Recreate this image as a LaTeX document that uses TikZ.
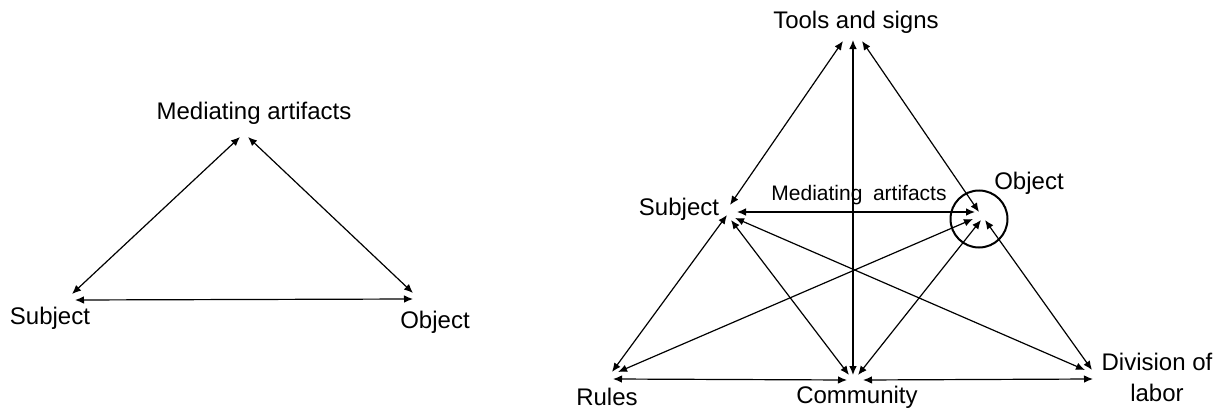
\documentclass[tikz,border=0pt]{standalone}
\usepackage{fontspec}
\setmainfont{Liberation Sans}
\usetikzlibrary{arrows.meta}
\begin{document}
\begin{tikzpicture}[x=0.5pt,y=-0.5pt,
  label/.style={inner sep=0pt,font=\fontsize{12}{15.5}\selectfont},
  smalllabel/.style={inner sep=0pt,font=\fontsize{10.5}{12}\selectfont},
  link/.style={line width=0.6pt,{Latex[length=4.5pt,width=3.8pt]}-{Latex[length=4.5pt,width=3.8pt]}}]
\useasboundingbox (0,0) rectangle (1223,412);

% ---------- basic triangle ----------
\node[label] (mA) at (254,113) {Mediating artifacts};
\node[label] (sA) at (50,318) {Subject};
\node[label] (oA) at (435,322) {Object};

\coordinate (mA-s) at (240,137);
\coordinate (mA-o) at (248,137);
\coordinate (sA-m) at (72,294);
\coordinate (sA-o) at (75,300);
\coordinate (oA-m) at (413,293);
\coordinate (oA-s) at (413,299);

\draw[link] (sA-m) -- (mA-s);
\draw[link] (mA-o) -- (oA-m);
\draw[link] (sA-o) -- (oA-s);

% ---------- expanded activity system ----------
\node[label] (tools) at (856,22) {Tools and signs};
\node[label] (subj) at (679,209) {Subject};
\node[smalllabel] (med) at (859,195) {Mediating\hspace{0.5em}artifacts};
\node[label] (obj) at (1029,183) {Object};
\node[label] (rules) at (607,397) {Rules};
\node[label] (comm) at (857,397) {Community};
\node[label,align=center] (div) at (1157,377) {Division of\\labor};

\draw[line width=1pt] (979,219) circle[radius=28.5];

% arrow ends at each corner
\coordinate (t-s) at (843,41);
\coordinate (t-c) at (853,40);
\coordinate (t-o) at (862,41);

\coordinate (s-t) at (730,205);
\coordinate (s-o) at (737,212);
\coordinate (s-r) at (727,215);
\coordinate (s-c) at (731,220);
\coordinate (s-d) at (735,218);

\coordinate (o-t) at (979,212);
\coordinate (o-s) at (975,212);
\coordinate (o-r) at (973,219);
\coordinate (o-c) at (981,220);
\coordinate (o-d) at (985,220);

\coordinate (r-s) at (612,372);
\coordinate (r-o) at (618,372);
\coordinate (r-c) at (613,379);

\coordinate (c-r) at (847,380);
\coordinate (c-s) at (849,375);
\coordinate (c-t) at (853,375);
\coordinate (c-o) at (858,375);
\coordinate (c-d) at (863,380);

\coordinate (d-s) at (1085,370);
\coordinate (d-o) at (1092,370);
\coordinate (d-c) at (1093,379);

\draw[link] (t-s) -- (s-t);
\draw[link] (t-c) -- (c-t);
\draw[link] (t-o) -- (o-t);
\draw[link] (s-o) -- (o-s);
\draw[link] (s-r) -- (r-s);
\draw[link] (s-c) -- (c-s);
\draw[link] (s-d) -- (d-s);
\draw[link] (o-r) -- (r-o);
\draw[link] (o-c) -- (c-o);
\draw[link] (o-d) -- (d-o);
\draw[link] (r-c) -- (c-r);
\draw[link] (c-d) -- (d-c);
\end{tikzpicture}
\end{document}
